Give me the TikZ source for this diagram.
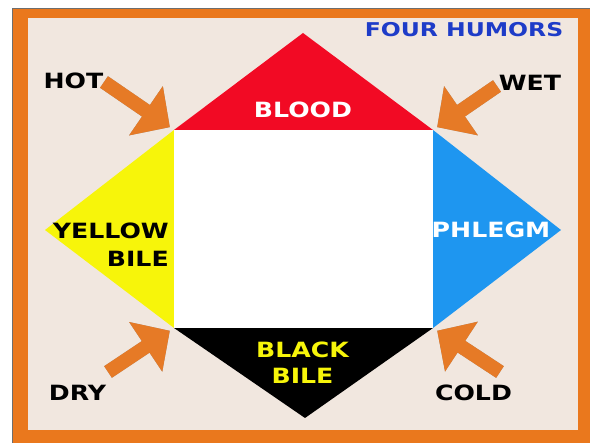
\documentclass[tikz,border=0pt]{standalone}
\usepackage{fontspec}
\setmainfont{DejaVu Sans}
\usepackage{tikz}
\usetikzlibrary{arrows.meta}
\definecolor{hmframe}{HTML}{EA781D}
\definecolor{hmpaper}{HTML}{F1E7DF}
\definecolor{hmblood}{HTML}{F20A24}
\definecolor{hmyellow}{HTML}{F7F50A}
\definecolor{hmphlegm}{HTML}{1E96F0}
\definecolor{hmarrow}{HTML}{E67A26}
\definecolor{hmtitle}{HTML}{1E3CC8}
\definecolor{hmedge}{HTML}{6E6E6E}
\tikzset{
  hlab/.style={font=\bfseries\fontsize{21}{28}\selectfont,xscale=1.2,inner sep=0pt,text=black},
  qarrow/.style={-{Triangle[length=29pt,width=58pt]},line width=14pt,draw=hmarrow,shorten >=5pt},
  qshadow/.style={qarrow,draw=black,opacity=0.35,shift={(3,3)}},
}

\begin{document}
\begin{tikzpicture}[x=1pt,y=-1pt]
  \useasboundingbox (0,0) rectangle (590,443);
  % ---- frame ----
  \fill[white] (0,0) rectangle (590,443);
  \fill[hmframe] (13,9) rectangle (590,443);
  \fill[hmpaper] (28,18) rectangle (578,430);
  \draw[hmedge,thin] (12.5,443) -- (12.5,8.5) -- (590,8.5);

  % ---- square corners ----
  \coordinate (nw) at (174,130);
  \coordinate (ne) at (433,130);
  \coordinate (se) at (433,328);
  \coordinate (sw) at (174,328);

  % ---- four triangles ----
  \fill[hmblood]  (nw) -- (303,33)  -- (ne) -- cycle;
  \fill[hmyellow] (nw) -- (45,230)  -- (sw) -- cycle;
  \fill[hmphlegm] (ne) -- (561,230) -- (se) -- cycle;
  \fill[black]    (sw) -- (305,418) -- (se) -- cycle;
  \fill[white] (nw) rectangle (se);

  % ---- labels ----
  \node[hlab,text=hmtitle,font=\bfseries\fontsize{19}{24}\selectfont,xscale=1.03] (title) at (464,30) {FOUR HUMORS};
  \node[hlab,text=white] (blood) at (303,109.5) {BLOOD};
  \node[hlab,align=right,anchor=east] (yellow) at (169,245) {YELLOW\\BILE};
  \node[hlab,text=white] (phlegm) at (491,229.5) {PHLEGM};
  \node[hlab,text=hmyellow,align=center,font=\bfseries\fontsize{21}{26}\selectfont] (blackbile) at (302.5,362.5) {BLACK\\BILE};

  \node[hlab] (hot)  at (73.5,80.5)  {HOT};
  \node[hlab] (wet)  at (530,82.5)   {WET};
  \node[hlab] (dry)  at (77.5,392.5) {DRY};
  \node[hlab] (cold) at (473.5,392.5) {COLD};

  % ---- arrows into the corners ----
  \coordinate (hotT)  at (104,82);
  \coordinate (wetT)  at (497,86);
  \coordinate (dryT)  at (108,372);
  \coordinate (coldT) at (500,372);
  \draw[qshadow] (hotT)  -- (nw);
  \draw[qshadow] (wetT)  -- (ne);
  \draw[qshadow] (dryT)  -- (sw);
  \draw[qshadow] (coldT) -- (se);
  \draw[qarrow] (hotT)  -- (nw);
  \draw[qarrow] (wetT)  -- (ne);
  \draw[qarrow] (dryT)  -- (sw);
  \draw[qarrow] (coldT) -- (se);
\end{tikzpicture}
\end{document}
